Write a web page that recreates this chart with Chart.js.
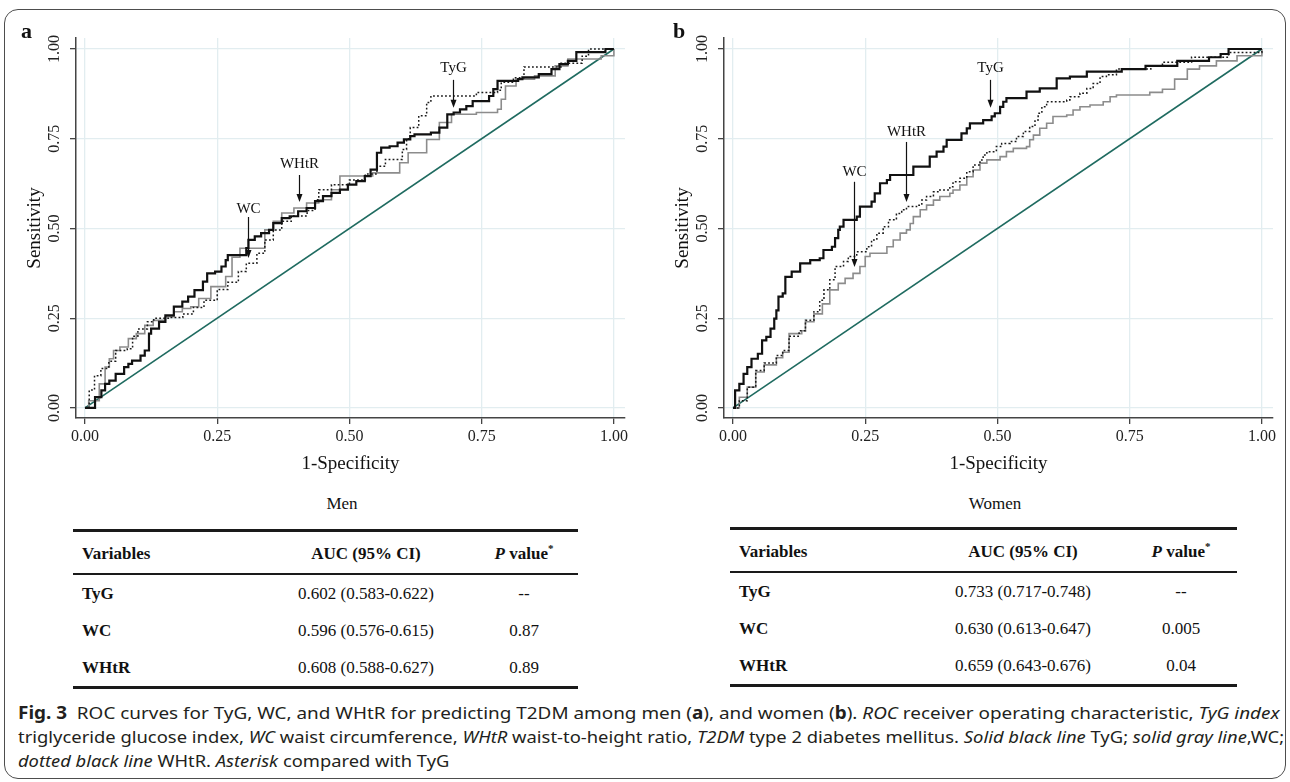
<!DOCTYPE html>
<html>
<head>
<meta charset="utf-8">
<title>ROC curves for TyG, WC and WHtR</title>
<script src="https://cdn.jsdelivr.net/npm/chart.js@4.4.1/dist/chart.umd.min.js"></script>
<style>
  html, body { margin: 0; padding: 0; background: #fff; }
  body { position: relative; width: 1290px; height: 782px; overflow: hidden; font-family: "Liberation Serif", "Times New Roman", serif; color: #111; }
  .frame { position: absolute; left: 4px; top: 9px; width: 1282px; height: 770px; border: 1.5px solid #4d4d4d; border-radius: 14px; box-sizing: border-box; }
  canvas.panel { position: absolute; top: 0; }
  .tag { position: absolute; top: 20px; font-weight: bold; font-size: 22px; line-height: 22px; }
  .group { position: absolute; top: 494px; font-size: 17px; line-height: 20px; transform: translateX(-50%); white-space: nowrap; }
  .tbl { position: absolute; height: 160px; }
  .rule { position: absolute; left: 0; right: 0; background: #1a1a1a; }
  .cell { position: absolute; font-size: 17px; line-height: 20px; white-space: nowrap; }
  .mid { transform: translateX(-50%); }
  .star { position: relative; top: -7px; font-size: 11px; font-weight: bold; line-height: 0; }
  .caption { position: absolute; left: 18px; font-family: "Noto Sans", "Open Sans", sans-serif; font-size: 17px; line-height: 22px; color: #231f20; white-space: nowrap; transform-origin: 0 50%; }
</style>
</head>
<body>
<div class="frame"></div>
<canvas id="menChart" class="panel" width="640" height="481" style="left:0"></canvas>
<canvas id="womenChart" class="panel" width="640" height="481" style="left:648px"></canvas>
<div class="tag" style="left:21px">a</div>
<div class="tag" style="left:673px">b</div>
<div class="group" style="left:342px">Men</div>
<div class="group" style="left:995px">Women</div>
<div id="menTable" class="tbl" style="left:73px; top:530px; width:505px"></div>
<div id="womenTable" class="tbl" style="left:730px; top:528px; width:507px"></div>
<div class="caption" id="cap1" style="top:702px"><b>Fig. 3</b>&nbsp; ROC curves for TyG, WC, and WHtR for predicting T2DM among men (<b>a</b>), and women (<b>b</b>). <i>ROC</i> receiver operating characteristic, <i>TyG index</i></div>
<div class="caption" id="cap2" style="top:726px">triglyceride glucose index, <i>WC</i> waist circumference, <i>WHtR</i> waist-to-height ratio, <i>T2DM</i> type 2 diabetes mellitus. <i>Solid black line</i> TyG; <i>solid gray line</i>,WC;</div>
<div class="caption" id="cap3" style="top:750px"><i>dotted black line</i> WHtR. <i>Asterisk</i> compared with TyG</div>

<script>
// axis ticks (both panels)
const tickValues = [0, 0.25, 0.5, 0.75, 1];

// reference diagonal
const chanceLine = [[0, 0], [1, 1]];

// men (panel a): [1-specificity, sensitivity]
const menTyG = [[0,0],[0.019,0.03],[0.031,0.049],[0.038,0.067],[0.046,0.076],[0.058,0.095],[0.074,0.114],[0.082,0.123],[0.089,0.132],[0.105,0.146],[0.113,0.16],[0.121,0.207],[0.125,0.221],[0.14,0.24],[0.152,0.258],[0.168,0.282],[0.184,0.296],[0.195,0.31],[0.207,0.328],[0.223,0.352],[0.231,0.375],[0.246,0.38],[0.258,0.394],[0.266,0.412],[0.27,0.426],[0.305,0.445],[0.309,0.468],[0.321,0.478],[0.333,0.487],[0.348,0.496],[0.356,0.515],[0.372,0.529],[0.387,0.534],[0.403,0.548],[0.419,0.557],[0.435,0.576],[0.45,0.59],[0.466,0.599],[0.482,0.608],[0.497,0.622],[0.513,0.632],[0.529,0.646],[0.54,0.664],[0.552,0.711],[0.56,0.725],[0.576,0.729],[0.591,0.739],[0.603,0.748],[0.615,0.757],[0.623,0.762],[0.654,0.767],[0.67,0.781],[0.685,0.818],[0.697,0.823],[0.709,0.832],[0.721,0.841],[0.733,0.855],[0.764,0.869],[0.772,0.888],[0.78,0.911],[0.819,0.916],[0.827,0.921],[0.858,0.93],[0.882,0.944],[0.897,0.958],[0.913,0.967],[0.929,0.991],[0.984,1],[1,1]];
const menWC = [[0,0],[0.007,0.02],[0.027,0.067],[0.038,0.114],[0.046,0.137],[0.054,0.16],[0.066,0.17],[0.082,0.193],[0.097,0.207],[0.113,0.23],[0.129,0.244],[0.152,0.254],[0.168,0.268],[0.184,0.277],[0.2,0.282],[0.215,0.305],[0.238,0.338],[0.266,0.366],[0.278,0.42],[0.293,0.445],[0.34,0.496],[0.356,0.52],[0.372,0.543],[0.395,0.557],[0.419,0.571],[0.442,0.58],[0.466,0.608],[0.482,0.646],[0.544,0.655],[0.595,0.683],[0.611,0.711],[0.646,0.748],[0.67,0.795],[0.693,0.818],[0.74,0.823],[0.78,0.832],[0.787,0.86],[0.795,0.897],[0.815,0.916],[0.85,0.925],[0.889,0.953],[0.913,0.972],[0.976,0.981],[1,1]];
const menWHtR = [[0,0],[0.008,0.05],[0.018,0.09],[0.03,0.11],[0.045,0.13],[0.058,0.16],[0.08,0.165],[0.09,0.2],[0.1,0.22],[0.118,0.24],[0.13,0.25],[0.16,0.252],[0.185,0.262],[0.205,0.28],[0.225,0.3],[0.25,0.33],[0.27,0.35],[0.29,0.38],[0.305,0.403],[0.325,0.431],[0.34,0.468],[0.356,0.496],[0.372,0.52],[0.39,0.535],[0.42,0.55],[0.435,0.58],[0.442,0.608],[0.466,0.622],[0.5,0.635],[0.53,0.652],[0.552,0.673],[0.568,0.692],[0.595,0.692],[0.6,0.72],[0.608,0.75],[0.615,0.781],[0.631,0.814],[0.646,0.851],[0.654,0.869],[0.725,0.869],[0.74,0.879],[0.78,0.885],[0.787,0.907],[0.81,0.92],[0.83,0.95],[0.9,0.96],[0.94,0.98],[0.952,1],[1,1]];

// women (panel b)
const womenTyG = [[0,0],[0.004,0.049],[0.012,0.067],[0.02,0.095],[0.027,0.114],[0.035,0.137],[0.047,0.151],[0.055,0.188],[0.063,0.198],[0.071,0.221],[0.078,0.249],[0.082,0.272],[0.086,0.31],[0.094,0.319],[0.099,0.365],[0.111,0.38],[0.127,0.403],[0.146,0.412],[0.164,0.417],[0.171,0.44],[0.187,0.449],[0.193,0.473],[0.199,0.496],[0.202,0.505],[0.209,0.524],[0.234,0.533],[0.24,0.561],[0.262,0.575],[0.268,0.598],[0.278,0.626],[0.291,0.635],[0.297,0.649],[0.341,0.672],[0.372,0.7],[0.385,0.714],[0.398,0.728],[0.404,0.747],[0.432,0.765],[0.442,0.779],[0.448,0.793],[0.473,0.802],[0.489,0.812],[0.495,0.821],[0.505,0.839],[0.511,0.853],[0.517,0.863],[0.555,0.881],[0.58,0.89],[0.612,0.918],[0.637,0.923],[0.669,0.937],[0.735,0.944],[0.78,0.953],[0.84,0.967],[0.9,0.977],[0.922,0.986],[0.937,1],[1,1]];
const womenWC = [[0,0],[0.012,0.03],[0.027,0.058],[0.043,0.1],[0.059,0.12],[0.082,0.14],[0.094,0.155],[0.106,0.207],[0.13,0.215],[0.137,0.24],[0.153,0.262],[0.169,0.29],[0.183,0.329],[0.199,0.347],[0.212,0.361],[0.227,0.375],[0.24,0.394],[0.25,0.422],[0.259,0.431],[0.291,0.449],[0.303,0.468],[0.316,0.487],[0.328,0.496],[0.335,0.514],[0.341,0.533],[0.354,0.552],[0.366,0.565],[0.379,0.579],[0.391,0.589],[0.41,0.598],[0.416,0.607],[0.429,0.621],[0.442,0.644],[0.454,0.663],[0.467,0.682],[0.48,0.691],[0.505,0.7],[0.517,0.714],[0.53,0.723],[0.555,0.728],[0.561,0.747],[0.568,0.76],[0.58,0.779],[0.593,0.793],[0.605,0.812],[0.631,0.816],[0.643,0.83],[0.656,0.839],[0.675,0.844],[0.7,0.853],[0.713,0.867],[0.725,0.872],[0.788,0.879],[0.812,0.888],[0.835,0.916],[0.859,0.944],[0.882,0.953],[0.914,0.967],[0.953,0.981],[1,1]];
const womenWHtR = [[0,0],[0.012,0.02],[0.027,0.058],[0.043,0.104],[0.059,0.125],[0.082,0.146],[0.094,0.16],[0.106,0.2],[0.125,0.215],[0.137,0.244],[0.153,0.268],[0.164,0.3],[0.172,0.329],[0.183,0.357],[0.193,0.394],[0.209,0.408],[0.218,0.422],[0.234,0.435],[0.253,0.449],[0.262,0.468],[0.272,0.487],[0.284,0.505],[0.294,0.524],[0.309,0.542],[0.319,0.552],[0.328,0.561],[0.347,0.565],[0.357,0.579],[0.366,0.589],[0.379,0.602],[0.391,0.607],[0.41,0.616],[0.416,0.63],[0.429,0.64],[0.442,0.658],[0.454,0.677],[0.467,0.691],[0.473,0.705],[0.48,0.714],[0.498,0.728],[0.508,0.737],[0.524,0.742],[0.536,0.756],[0.549,0.77],[0.561,0.784],[0.571,0.802],[0.577,0.821],[0.584,0.839],[0.593,0.853],[0.631,0.858],[0.637,0.867],[0.656,0.877],[0.669,0.89],[0.681,0.904],[0.694,0.923],[0.706,0.928],[0.725,0.944],[0.79,0.953],[0.812,0.963],[0.867,0.977],[0.937,0.99],[1,1]];

// table values
const variables = ['TyG', 'WC', 'WHtR'];
const menAUC = ['0.602 (0.583-0.622)', '0.596 (0.576-0.615)', '0.608 (0.588-0.627)'];
const menP = ['--', '0.87', '0.89'];
const womenAUC = ['0.733 (0.717-0.748)', '0.630 (0.613-0.647)', '0.659 (0.643-0.676)'];
const womenP = ['--', '0.005', '0.04'];

// arrow labels, in data units
const menNotes = [
    { label: 'TyG', x: 0.696, textY: 0.947, fromY: 0.914, toY: 0.836 },
    { label: 'WHtR', x: 0.405, textY: 0.68, fromY: 0.649, toY: 0.574 },
    { label: 'WC', x: 0.308, textY: 0.554, fromY: 0.532, toY: 0.418 }
];
const womenNotes = [
    { label: 'TyG', x: 0.486, textY: 0.947, fromY: 0.914, toY: 0.836 },
    { label: 'WHtR', x: 0.327, textY: 0.769, fromY: 0.741, toY: 0.574 },
    { label: 'WC', x: 0.229, textY: 0.657, fromY: 0.63, toY: 0.393 }
];

const serif = 'Liberation Serif';

function notePlugin(notes) {
    return {
        id: 'arrowNotes',
        afterDatasetsDraw(chart) {
            const { ctx, scales: { x, y } } = chart;
            ctx.save();
            ctx.fillStyle = '#111';
            ctx.strokeStyle = '#111';
            ctx.lineWidth = 1.2;
            ctx.font = '15px "' + serif + '"';
            ctx.textAlign = 'center';
            ctx.textBaseline = 'middle';
            notes.forEach(n => {
                const px = Math.round(x.getPixelForValue(n.x)) + 0.5;
                ctx.fillText(n.label, px, y.getPixelForValue(n.textY));
                const y0 = y.getPixelForValue(n.fromY);
                const y1 = y.getPixelForValue(n.toY);
                ctx.beginPath();
                ctx.moveTo(px, y0);
                ctx.lineTo(px, y1 - 6);
                ctx.stroke();
                ctx.beginPath();
                ctx.moveTo(px, y1);
                ctx.lineTo(px - 3, y1 - 8);
                ctx.lineTo(px + 3, y1 - 8);
                ctx.closePath();
                ctx.fill();
            });
            ctx.restore();
        }
    };
}

function axis(title, extra) {
    return Object.assign({
        type: 'linear',
        afterBuildTicks: s => { s.ticks = tickValues.map(v => ({ value: v })); },
        grid: { color: '#e2edf0', lineWidth: 1.3, tickLength: 6, tickColor: '#444', tickWidth: 1.3 },
        border: { color: '#444', width: 1.5 },
        ticks: {
            font: { family: serif, size: 16 },
            color: '#222',
            callback: v => Number(v).toFixed(2)
        },
        title: { display: true, text: title, color: '#111', font: { family: serif, size: 19 } }
    }, extra);
}

function rocChart(id, tyg, wc, whtr, notes) {
    return new Chart(document.getElementById(id), {
        type: 'line',
        data: {
            datasets: [
                { data: tyg, borderColor: '#111', borderWidth: 2.2, stepped: true },
                { data: whtr, borderColor: '#1a1a1a', borderWidth: 1.5, borderDash: [1.8, 2.2], stepped: true },
                { data: wc, borderColor: '#8c8c8c', borderWidth: 1.6, stepped: true },
                { data: chanceLine, borderColor: '#1f6b60', borderWidth: 1.6 }
            ]
        },
        options: {
            responsive: false,
            animation: false,
            elements: { point: { radius: 0 }, line: { tension: 0 } },
            layout: { padding: { top: 38, right: 15, left: 0, bottom: 2 } },
            plugins: { legend: { display: false }, tooltip: { enabled: false } },
            scales: {
                x: axis('1-Specificity', {
                    min: -0.017, max: 1.021,
                    afterFit: s => { s.height = 61; }
                }),
                y: (() => {
                    const a = axis('Sensitivity', {
                        min: -0.028, max: 1.0306,
                        afterFit: s => { s.width = 76; }
                    });
                    a.ticks = Object.assign({}, a.ticks, { minRotation: 90, maxRotation: 90, crossAlign: 'center', padding: 1 });
                    a.title = Object.assign({}, a.title, { padding: { top: 24, bottom: 0 } });
                    return a;
                })()
            }
        },
        plugins: [notePlugin(notes)]
    });
}

rocChart('menChart', menTyG, menWC, menWHtR, menNotes);
rocChart('womenChart', womenTyG, womenWC, womenWHtR, womenNotes);

// tables under the panels
function buildTable(el, auc, pv) {
    const AUC_X = 293, P_X = 451;
    let html = '';
    html += '<div class="rule" style="top:-1px;height:3px"></div>';
    html += '<div class="rule" style="top:43px;height:1.5px"></div>';
    html += '<div class="rule" style="top:156px;height:3px"></div>';
    html += '<div class="cell" style="left:9px;top:14px"><b>Variables</b></div>';
    html += '<div class="cell mid" style="left:' + AUC_X + 'px;top:14px"><b>AUC (95% CI)</b></div>';
    html += '<div class="cell mid" style="left:' + P_X + 'px;top:14px"><b><i>P</i> value</b><span class="star">*</span></div>';
    const rowY = [64, 101, 138];
    variables.forEach((v, i) => {
        const t = rowY[i] - 10;
        html += '<div class="cell" style="left:9px;top:' + t + 'px"><b>' + v + '</b></div>';
        html += '<div class="cell mid" style="left:' + AUC_X + 'px;top:' + t + 'px">' + auc[i] + '</div>';
        html += '<div class="cell mid" style="left:' + P_X + 'px;top:' + t + 'px">' + pv[i] + '</div>';
    });
    el.innerHTML = html;
}
buildTable(document.getElementById('menTable'), menAUC, menP);
buildTable(document.getElementById('womenTable'), womenAUC, womenP);

// squeeze each caption line to the width of the narrow face in the original
const capWidths = { cap1: 1262, cap2: 1266, cap3: 431 };
Object.keys(capWidths).forEach(id => {
    const c = document.getElementById(id);
    c.style.transform = 'scaleX(' + (capWidths[id] / c.offsetWidth) + ')';
});
</script>
</body>
</html>
